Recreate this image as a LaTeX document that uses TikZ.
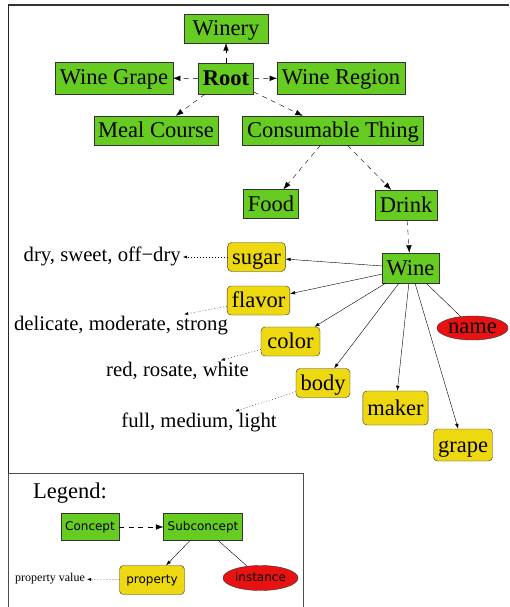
\documentclass[tikz,border=0pt]{standalone}
\usepackage{fontspec}
\setmainfont{Liberation Serif}
\newfontfamily\legendsans{DejaVu Sans}
\usetikzlibrary{arrows.meta, shapes.geometric, positioning}

\definecolor{conceptgreen}{RGB}{102,204,34}
\definecolor{propyellow}{RGB}{238,216,16}
\definecolor{instred}{RGB}{232,18,18}
\newcommand{\labelfont}{\fontsize{22.5}{24}\selectfont}
\newcommand{\valuefont}{\fontsize{20.7}{23}\selectfont}
\newcommand{\smallfont}{\fontsize{12}{14}\selectfont}

\tikzset{
    concept/.style={draw=black!80, fill=conceptgreen, font=\labelfont,
        inner xsep=4.5pt, inner ysep=4.5pt, text height=17pt, text depth=3pt},
    property/.style={concept, fill=propyellow, rounded corners=4pt},
    instance/.style={ellipse, draw=black!80, fill=instred, font=\labelfont,
        inner sep=0pt, minimum width=71pt, minimum height=24pt,
        text height=13pt, text depth=2pt},
    value/.style={font=\valuefont, inner sep=2pt, text height=14pt, text depth=5pt},
    lconcept/.style={concept, font=\legendsans\smallfont, inner xsep=4pt, inner ysep=4pt,
        text height=9.5pt, text depth=2pt, minimum height=27pt},
    lproperty/.style={lconcept, fill=propyellow, rounded corners=4pt,
        minimum width=65pt, minimum height=29pt},
    linstance/.style={instance, font=\legendsans\smallfont, minimum width=75pt,
        minimum height=25pt, text height=9.5pt, text depth=2pt},
    isa/.style={dashed, dash pattern=on 5pt off 4.5pt, thin,
        -{Latex[length=7.5pt,width=5.5pt]}},
    hasprop/.style={thin, -{Latex[length=5pt,width=3.5pt]}},
    propval/.style={dash pattern=on 0.8pt off 2.2pt, thin, -{Latex[length=4pt,width=3pt]}}
}

\begin{document}
\begin{tikzpicture}[x=1pt, y=-1pt]
    \useasboundingbox (0,0) rectangle (509,607);

    % Frame
    \draw[black!80, line width=2pt] (8,5.5) -- (509,5.5);
    \draw[black!85, line width=1.5pt] (8.5,5) -- (8.5,607);

    % Concept hierarchy
    \node[concept, minimum width=84pt] (winery) at (226,28.5) {Winery};
    \node[concept, minimum height=31pt] (root) at (226,78.5) {\textbf{Root}};
    \node[concept, minimum height=32pt] (winegrape) at (114,78) {Wine Grape};
    \node[concept, minimum height=32pt] (wineregion) at (341,78) {Wine Region};
    \node[concept] (mealcourse) at (156,130.5) {Meal Course};
    \node[concept] (consumable) at (333,130.5) {Consumable Thing};
    \node[concept] (food) at (271,204) {Food};
    \node[concept, minimum height=30pt] (drink) at (406,205) {Drink};
    \node[concept, minimum height=30pt] (wine) at (410.5,268) {Wine};

    \draw[isa] (root) -- (winery);
    \draw[isa] (root) -- (winegrape);
    \draw[isa] (root) -- (wineregion);
    \draw[isa] (root) -- (mealcourse);
    \draw[isa] (root) -- (consumable);
    \draw[isa] (consumable) -- (food);
    \draw[isa] (consumable) -- (drink);
    \draw[isa] (drink) -- (wine);

    % Properties of Wine
    \node[property] (sugar) at (256.5,257) {sugar};
    \node[property] (flavor) at (258.5,300.5) {flavor};
    \node[property, minimum width=59pt] (color) at (290.5,341.5) {color};
    \node[property] (body) at (323,383) {body};
    \node[property, minimum height=34pt] (maker) at (395.5,408) {maker};
    \node[property, minimum height=32pt] (grape) at (463,445) {grape};
    \node[instance] (name) at (472.5,328) {name};

    \foreach \p in {sugar,flavor,color,body,maker,grape} {
        \draw[hasprop] (wine) -- (\p);
    }
    \draw[thin] (wine) -- (name);

    % Property values
    \node[value, anchor=east] (sugarval) at (183,257) {dry, sweet, off\textminus dry};
    \node[value] (flavorval) at (121,326) {delicate, moderate, strong};
    \node[value] (colorval) at (177.5,372) {red, rosate, white};
    \node[value] (bodyval) at (199,423) {full, medium, light};

    \draw[propval] (sugar) -- (sugarval);
    \draw[propval] (flavor) -- (flavorval);
    \draw[propval] (color) -- (colorval);
    \draw[propval] (body) -- (bodyval);

    % Legend
    \draw[black!70, thin] (8,607) -- (8,473.5) -- (303,473.5) -- (303,607);
    \node[font=\labelfont] (legend) at (70,493) {Legend:};
    \node[lconcept] (lconcept) at (90,527) {Concept};
    \node[lconcept] (lsub) at (203,527) {Subconcept};
    \node[lproperty] (lprop) at (152,580) {property};
    \node[linstance] (linst) at (260.5,578) {instance};
    \node[font=\smallfont, inner sep=2pt] (lval) at (50,579) {property value};

    \draw[isa] (lconcept) -- (lsub);
    \draw[hasprop] (lsub) -- (lprop);
    \draw[thin] (lsub) -- (linst);
    \draw[propval] (lprop) -- (lval);
\end{tikzpicture}
\end{document}
